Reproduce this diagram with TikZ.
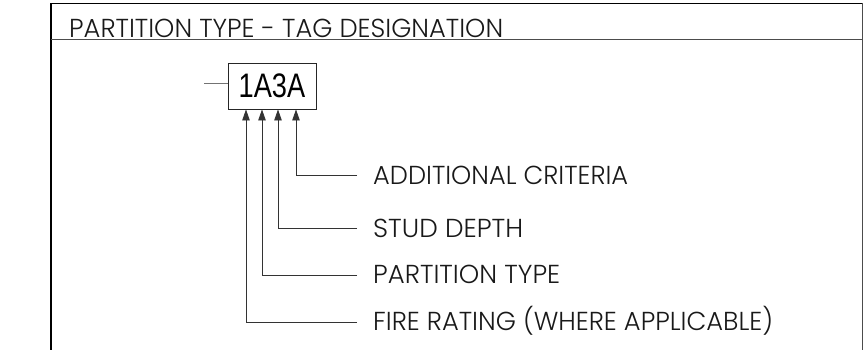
\documentclass[tikz,border=0pt]{standalone}
\usepackage{fontspec}
\setmainfont{Liberation Sans}
\IfFontExistsTF{Poppins Light}{\newfontfamily\lblfont{Poppins Light}}{\newfontfamily\lblfont{Poppins}}
\usetikzlibrary{arrows.meta}
\newcommand\fitw[2]{\resizebox{#1}{\height}{#2}}
\begin{document}
\begin{tikzpicture}[x=1pt,y=-1pt,
  frameline/.style={line width=1.3pt,draw=black},
  thinline/.style={line width=0.9pt,draw=black!70},
  tickline/.style={line width=1pt,draw=black!55},
  lead/.style={line width=0.9pt,draw=black!80,-{Triangle[length=11pt,width=7.5pt]}},
  lbl/.style={anchor=base west,inner sep=0pt,text=black!90,font=\lblfont\fontsize{26}{26}\selectfont},
  tagbox/.style={draw=black!85,line width=0.9pt,minimum width=88pt,minimum height=46pt,inner sep=0pt,
    font=\fontsize{34}{34}\selectfont}]
\useasboundingbox (0,0) rectangle (866,350);
% frame
\draw[frameline] (51,350) -- (51,3.5) -- (862,3.5);
\draw[thinline] (862,3.5) -- (862,350);
\draw[thinline] (51,39.5) -- (862,39.5);
% header
\node[lbl] (hdr) at (69,37.3) {\fitw{434pt}{PARTITION TYPE - TAG DESIGNATION}};
% tag
\node[tagbox] (tag) at (272,86) {\raisebox{-2.5pt}{\scalebox{0.8}[1]{1A3A}}};
\coordinate (tk) at (204,84);
\draw[tickline] (tk) -- (tk -| tag.west);
% labels
\node[lbl] (lA) at (373,184.5) {\fitw{255pt}{ADDITIONAL CRITERIA}};
\node[lbl] (lS) at (373,237) {\fitw{150pt}{STUD DEPTH}};
\node[lbl] (lP) at (373,283.7) {\fitw{187pt}{PARTITION TYPE}};
\node[lbl] (lF) at (373,330.5) {\fitw{400pt}{FIRE RATING (WHERE APPLICABLE)}};
% leaders
\coordinate (eA) at (357,175.7);
\coordinate (eS) at (357,228.3);
\coordinate (eP) at (357,275);
\coordinate (eF) at (357,322);
\draw[lead] (eA) -| ([xshift=24pt]tag.south);
\draw[lead] (eS) -| ([xshift=6pt]tag.south);
\draw[lead] (eP) -| ([xshift=-10pt]tag.south);
\draw[lead] (eF) -| ([xshift=-26pt]tag.south);
\end{tikzpicture}
\end{document}
